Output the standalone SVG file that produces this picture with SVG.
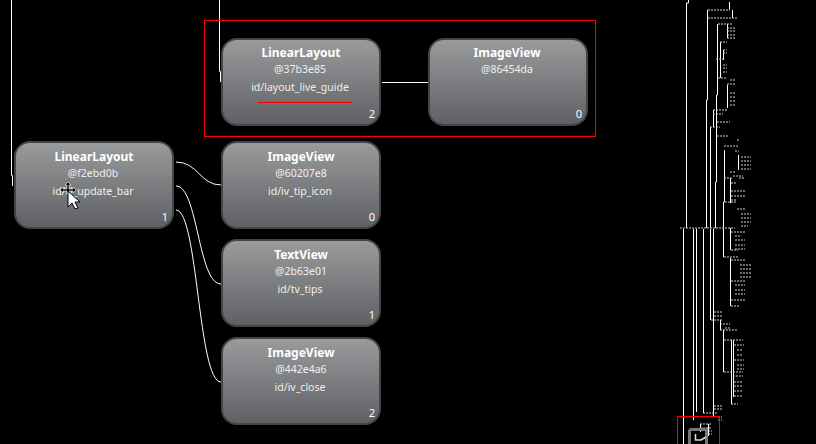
<svg xmlns="http://www.w3.org/2000/svg" width="816" height="444" viewBox="0 0 816 444">
<style>
.card{fill:url(#cardFill);stroke:#444546;stroke-width:2}
text{font-family:"Noto Sans","Liberation Sans",sans-serif;fill:#f0f0f0;text-anchor:middle}
.t{font-size:12px;font-weight:700;fill:#fff}
.s{font-size:10.5px}
.i{font-size:10.5px}
.n{font-size:11px;text-anchor:end;fill:#fff}
.c{fill:none;stroke:#fff;stroke-width:1}
.w{fill:none;stroke:#fff;stroke-width:1}
.g{fill:none;stroke:#d0d0d0;stroke-width:1;stroke-dasharray:2 1}
.r{fill:none;stroke:#f00;stroke-width:1}
</style>
<defs>
<linearGradient id="cardFill" x1="0" y1="0" x2="0" y2="1"><stop offset="0" stop-color="#9a9b9d"/><stop offset="1" stop-color="#5e6063"/></linearGradient>
</defs>
<rect width="816" height="444" fill="#000"/>
<g id="connectors">
<path class="c" d="M11.5 0V175.5H12.5V186"/>
<path class="c" d="M219.5 0V71.5H220.5V82"/>
<path class="c" d="M382 82.5H428"/>
<path class="c" d="M176 162C198 162 200 185 221 185"/>
<path class="c" d="M176 186C198 186 198 284 221 284"/>
<path class="c" d="M176 210C198 210 198 382 221 382"/>
</g>
<g id="node-37b3e85">
<rect class="card" x="222" y="39" width="158" height="86" rx="15"/>
<text class="t" x="301" y="57">LinearLayout</text><text class="s" x="300" y="73">@37b3e85</text><text class="i" x="300" y="91">id/layout_live_guide</text><text class="n" x="375" y="118">2</text>
</g>
<g id="node-86454da">
<rect class="card" x="429" y="39" width="158" height="86" rx="15"/>
<text class="t" x="507" y="57">ImageView</text><text class="s" x="507" y="73">@86454da</text><text class="n" x="582" y="118">0</text>
</g>
<g id="node-f2ebd0b">
<rect class="card" x="15" y="142" width="158" height="86" rx="15"/>
<text class="t" x="94" y="161">LinearLayout</text><text class="s" x="93" y="177">@f2ebd0b</text><text class="i" x="93" y="195">id/rl_update_bar</text><text class="n" x="168" y="221">1</text>
</g>
<g id="node-60207e8">
<rect class="card" x="222" y="142" width="158" height="86" rx="15"/>
<text class="t" x="301" y="161">ImageView</text><text class="s" x="301" y="177">@60207e8</text><text class="i" x="300" y="195">id/iv_tip_icon</text><text class="n" x="375" y="221">0</text>
</g>
<g id="node-2b63e01">
<rect class="card" x="222" y="240" width="158" height="86" rx="15"/>
<text class="t" x="301" y="259">TextView</text><text class="s" x="301" y="275">@2b63e01</text><text class="i" x="300" y="293">id/tv_tips</text><text class="n" x="375" y="319">1</text>
</g>
<g id="node-442e4a6">
<rect class="card" x="222" y="338" width="158" height="86" rx="15"/>
<text class="t" x="301" y="357">ImageView</text><text class="s" x="301" y="373">@442e4a6</text><text class="i" x="300" y="391">id/iv_close</text><text class="n" x="375" y="417">2</text>
</g>
<g id="highlight">
<rect class="r" x="204.5" y="20.5" width="391" height="116"/>
<path d="M258 102.5H352" stroke="#f00" stroke-width="1" fill="none"/>
</g>
<g id="cursor">
<path d="M68 182l-3 3h2v4h-4v-2l-3 3 3 3v-2h4v1h2v-1h4v2l3-3-3-3v2h-4v-4h2z" fill="#000" stroke="#fff" stroke-width=".6"/>
<path d="M68 191V207L72 203L75 209L78 208L75 202H80Z" fill="#fff" stroke="#000" stroke-width="1"/>
</g>
<g id="minimap">
<path class="w" d="M688.5 0V3H686.5V228"/>
<path class="w" d="M707.5 10V100H706.5V228M710.5 127V228"/>
<path class="w" d="M717.5 24V95H716.5V182H715.5V228"/>
<path class="w" d="M724.5 150V202H723.5V257"/>
<path class="w" d="M683.5 229V444M693.5 229V420M696.5 229V412M703.5 229V413M710.5 229V320M713.5 229V416"/>
<path class="w" d="M729.5 2V10M732.5 10V18M727.5 24V38M720.5 42V78M723.5 50V60M727.5 85V108M713.5 110V127M730.5 178V203M730.5 228V250M730.5 258V306M723.5 330V372M731.5 340V404M733.5 340V397M720.5 320V330M738.5 155V170"/>
<path class="g" d="M708 10H730M708 18H737M718 24H732M727 28H736M727 31H736M727 35H736M727 38H736M720 42H727M723 50H727M723 53H727M716 59H724M723 65H727M723 68H727M723 72H727M718 78H727M730 80H736M727 84H736M730 93H736M730 97H736M730 101H736M730 105H736M713 110H727M713 114H723M717 122H730M710 127H720M717 136H729M724 146H738M737 140H740"/>
<path class="g" d="M735 151H739M741 157H751M741 161H751M741 165H751M741 169H751M730 172H736M733 176H743M724 178H732M739 178H745M731 183H737M731 191H745M731 196H745M731 200H737M725 202H737M737 209H746M741 214H751M741 218H751M741 222H751M741 226H748"/>
<path class="g" d="M680 228H735M731 232H745M735 236H741M735 240H745M735 245H745M735 249H745M731 250H738M724 257H738M731 260H745M740 265H751M740 269H751M740 273H751M740 277H751M731 281H745M735 285H745M735 290H745M735 294H745M731 300H745M731 306H740"/>
<path class="g" d="M714 312H722M711 320H723M714 316H722M720 324H730M725 328H730M720 330H738M724 340H743M734 345H744M737 350H743M737 355H743M734 360H744M737 365H744M737 369H744M724 372H743M733 376H743M734 382H743M734 386H743M734 391H743M734 396H743M731 404H738"/>
<path class="g" d="M714 406H722M714 409H722M703 413H718M718 417H722M718 420H722M700 424H712M700 428H712M708 431H712M708 434H712"/>
<path class="w" d="M700.5 424V432M708.5 424V436"/>
<path d="M689.5 429.5H706.5V444" fill="none" stroke="#777" stroke-width="3"/>
<path d="M689.5 444V429.5" fill="none" stroke="#777" stroke-width="3"/>
<path d="M695.5 434V440H701L706 437" fill="none" stroke="#ddd" stroke-width="1.5"/>
<path class="r" d="M677.5 444V416.5H719.5V444"/>
</g>
</svg>
